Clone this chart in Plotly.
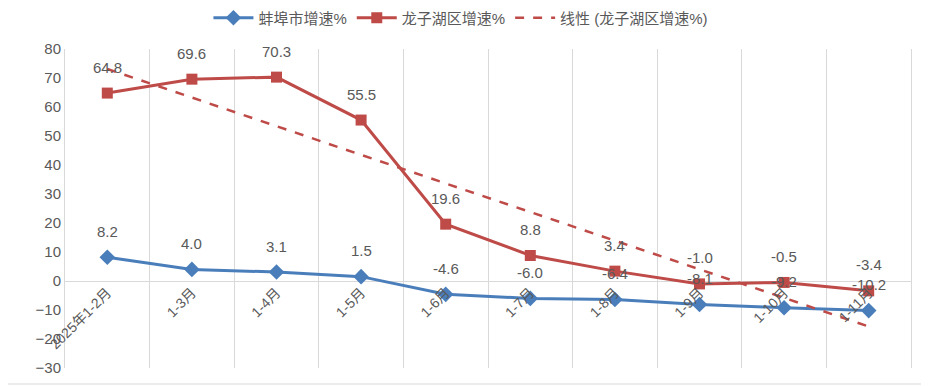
import numpy as np
import plotly.graph_objects as go

categories = ["2025年1-2月", "1-3月", "1-4月", "1-5月", "1-6月", "1-7月", "1-8月", "1-9月", "1-10月", "1-11月"]
bengbu = [8.2, 4.0, 3.1, 1.5, -4.6, -6.0, -6.4, -8.1, -9.2, -10.2]
longzihu = [64.8, 69.6, 70.3, 55.5, 19.6, 8.8, 3.4, -1.0, -0.5, -3.4]

BLUE = "#4A7EBB"
RED = "#BE4B48"
GREY = "#595959"
FONT = "Liberation Sans, Noto Sans CJK SC"

# linear trend of 龙子湖区
xi = np.arange(1, len(longzihu) + 1)
k, b = np.polyfit(xi, longzihu, 1)
trend = k * xi + b

fig = go.Figure()
fig.add_trace(go.Scatter(
    x=categories, y=bengbu, name="蚌埠市增速%", mode="lines+markers",
    line=dict(color=BLUE, width=3), marker=dict(symbol="diamond", size=12, color=BLUE)))
fig.add_trace(go.Scatter(
    x=categories, y=longzihu, name="龙子湖区增速%", mode="lines+markers",
    line=dict(color=RED, width=3), marker=dict(symbol="square", size=11, color=RED)))
fig.add_trace(go.Scatter(
    x=categories, y=trend, name="线性 (龙子湖区增速%)", mode="lines",
    line=dict(color=RED, width=2.5, dash="dash")))

annotations = []
for c, v in zip(categories, bengbu):
    annotations.append(dict(x=c, y=v, text=f"{v:.1f}", showarrow=False, yshift=26,
                            font=dict(size=15, color=GREY, family=FONT)))
for c, v in zip(categories, longzihu):
    annotations.append(dict(x=c, y=v, text=f"{v:.1f}", showarrow=False, yshift=26,
                            font=dict(size=15, color=GREY, family=FONT)))

W, H = 921, 378
fig.update_layout(
    width=W, height=H,
    margin=dict(l=57, r=18, t=41, b=18, autoexpand=False),
    paper_bgcolor="white", plot_bgcolor="white",
    font=dict(family=FONT, size=14, color=GREY),
    showlegend=True,
    legend=dict(orientation="h", x=0.468, xanchor="center", y=1 - 10 / H, yanchor="middle",
                yref="container", font=dict(size=15, color=GREY), itemwidth=40,
                tracegroupgap=0),
    annotations=annotations,
    xaxis=dict(type="category", range=[-0.5, 9.5], tickson="boundaries",
               showgrid=True, gridcolor="#D9D9D9", gridwidth=1,
               showline=False, ticks="", tickangle=-45,
               anchor="free", position=30 / 110,
               tickfont=dict(size=14, color=GREY)),
    yaxis=dict(range=[-30, 80], dtick=10, showgrid=False, zeroline=True,
               zerolinecolor="#D9D9D9", zerolinewidth=1,
               showline=True, linecolor="#D9D9D9", linewidth=1, mirror=True,
               ticks="", tickfont=dict(size=15, color=GREY)),
    shapes=[dict(type="line", xref="paper", yref="paper", x0=-57 / 846, x1=1 + 18 / 846,
                 y0=-16 / 319, y1=-16 / 319, line=dict(color="#D9D9D9", width=1))],
)

fig.write_html("out.html")
